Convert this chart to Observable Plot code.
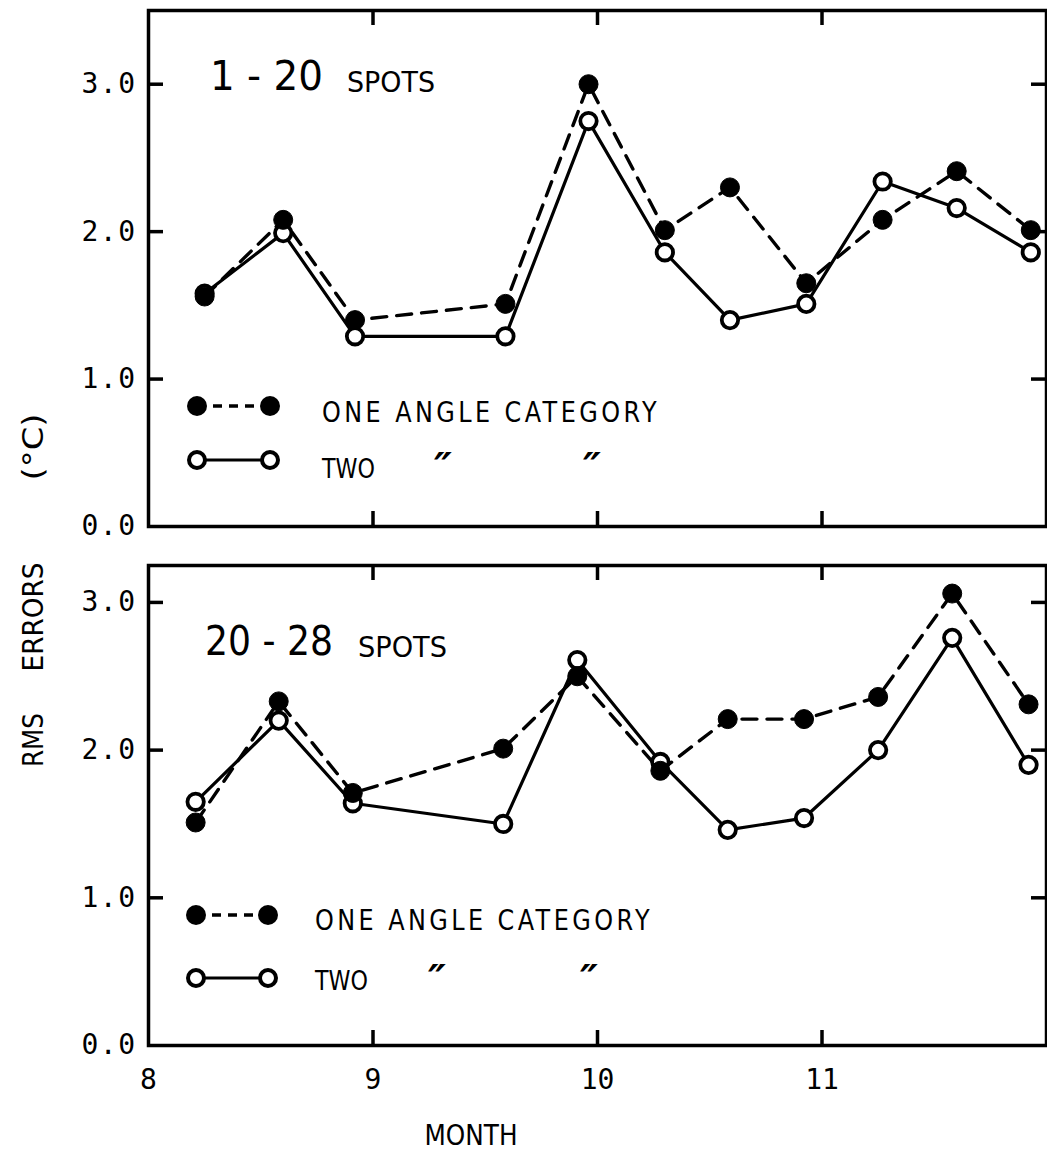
<!DOCTYPE html>
<html><head><meta charset="utf-8">
<script src="https://cdn.jsdelivr.net/npm/d3@7"></script>
<script src="https://cdn.jsdelivr.net/npm/@observablehq/plot@0.6"></script>
<style>
html,body{margin:0;padding:0;background:#fff;}
#wrap{position:relative;width:1047px;height:1151px;overflow:hidden;background:#fff;}
#wrap > svg{position:absolute;left:0;}
</style></head><body><div id="wrap"></div>
<script>
// ---- data ----
const xTicks = [8, 9, 10, 11];
const yTicks = [0, 1, 2, 3];
const seriesNames = ["ONE ANGLE CATEGORY", "TWO"];
const dittoMark = "\u2033";
const panelTitles = [["1 - 20", "SPOTS"], ["20 - 28", "SPOTS"]];
const xLabel = "MONTH";
const yLabelWords = ["RMS", "ERRORS", "(\u00B0C)"];

const topMonths = [8.25, 8.60, 8.92, 9.59, 9.96, 10.30, 10.59, 10.93, 11.27, 11.60, 11.93];
const topOne    = [1.56, 2.08, 1.40, 1.51, 3.00, 2.01, 2.30, 1.65, 2.08, 2.41, 2.01];
const topTwo    = [1.58, 1.99, 1.29, 1.29, 2.75, 1.86, 1.40, 1.51, 2.34, 2.16, 1.86];

const botMonths = [8.21, 8.58, 8.91, 9.58, 9.91, 10.28, 10.58, 10.92, 11.25, 11.58, 11.92];
const botOne    = [1.51, 2.33, 1.71, 2.01, 2.50, 1.86, 2.21, 2.21, 2.36, 3.06, 2.31];
const botTwo    = [1.65, 2.20, 1.64, 1.50, 2.61, 1.92, 1.46, 1.54, 2.00, 2.76, 1.90];

// ---- layout ----
const W = 1047, ML = 148, MR = 1, TK = 15;
const MONO = "'DejaVu Sans Mono', 'Liberation Mono', monospace";
const SANS = "'DejaVu Sans', 'Liberation Sans', sans-serif";

function panel(o) {
  const pw = W - ML - MR, ph = o.height - o.marginTop - o.marginBottom;
  const one = o.months.map((m, i) => ({m, v: o.one[i]}));
  const two = o.months.map((m, i) => ({m, v: o.two[i]}));
  const inner = yTicks.filter(d => d > 0);
  const innerX = xTicks.filter(d => d > 8);
  const marks = [
    Plot.line(one, {x: "m", y: "v", stroke: "black", strokeWidth: 3.4, strokeDasharray: "15,10"}),
    Plot.line(two, {x: "m", y: "v", stroke: "black", strokeWidth: 3.2}),
    Plot.dot(two, {x: "m", y: "v", r: 8.2, fill: "white", stroke: "black", strokeWidth: 3.8}),
    Plot.dot(one, {x: "m", y: "v", r: 9.5, fill: "black", stroke: "black", strokeWidth: 1}),
    Plot.frame({stroke: "black", strokeWidth: 3.5}),
    Plot.ruleY(inner, {insetRight: pw - TK, stroke: "black", strokeWidth: 3.5}),
    Plot.ruleY(inner, {insetLeft: pw - TK, stroke: "black", strokeWidth: 3.5}),
    Plot.ruleX(innerX, {insetBottom: ph - TK, stroke: "black", strokeWidth: 3.5}),
    Plot.ruleX(innerX, {insetTop: ph - TK, stroke: "black", strokeWidth: 3.5}),
    Plot.axisY({ticks: yTicks, tickSize: 0, tickPadding: 12, tickFormat: d3.format(".1f"), label: null})
  ];
  if (o.showX) marks.push(Plot.axisX({ticks: xTicks, tickSize: 0, tickPadding: 24, tickFormat: d3.format("d"), label: null}));
  const svg = Plot.plot({
    width: W, height: o.height,
    marginLeft: ML, marginRight: MR, marginTop: o.marginTop, marginBottom: o.marginBottom,
    x: {domain: [8, 12], axis: o.showX ? undefined : null},
    y: {domain: [0, o.yMax]},
    style: {fontFamily: MONO, fontSize: "28px", color: "black", background: "transparent", overflow: "visible"},
    marks
  });
  svg.style.top = o.top + "px";
  return svg;
}

const wrap = document.getElementById("wrap");
const p1 = panel({months: topMonths, one: topOne, two: topTwo, yMax: 3.5, height: 545, marginTop: 10, marginBottom: 19, top: 0, showX: false});
const p2 = panel({months: botMonths, one: botOne, two: botTwo, yMax: 3.25, height: 606, marginTop: 20, marginBottom: 106, top: 545, showX: true});
wrap.appendChild(p1);
wrap.appendChild(p2);
// tick label styling
for (const s of [p1, p2]) {
  d3.select(s).selectAll("text")
    .style("font-size", "28px").style("font-family", MONO).style("fill", "black");
  d3.select(s).selectAll('g[aria-label="y-axis tick label"] text').attr("letter-spacing", 1.5);
}

// ---- overlay: titles, legends, axis titles ----
const ov = d3.select(wrap).append("svg")
  .attr("width", W).attr("height", 1151)
  .style("top", "0px").style("pointer-events", "none");

function title(x1, y1, big, bigLen, x2, y2, small, smallLen) {
  ov.append("text").attr("x", x1).attr("y", y1).attr("font-family", SANS).attr("font-size", 41)
    .attr("textLength", bigLen).attr("lengthAdjust", "spacingAndGlyphs").text(big);
  ov.append("text").attr("x", x2).attr("y", y2).attr("font-family", SANS).attr("font-size", 28)
    .attr("textLength", smallLen).attr("lengthAdjust", "spacingAndGlyphs").text(small);
}
title(210, 90, panelTitles[0][0], 113, 347, 92, panelTitles[0][1], 88);
title(205, 655, panelTitles[1][0], 128, 358, 657, panelTitles[1][1], 89);

function legend(xa, xb, yf, yo, tx, tyf, tyo, d1, d2) {
  ov.append("line").attr("x1", xa).attr("x2", xb).attr("y1", yf).attr("y2", yf)
    .attr("stroke", "black").attr("stroke-width", 3.4).attr("stroke-dasharray", "9,7");
  for (const x of [xa, xb]) ov.append("circle").attr("cx", x).attr("cy", yf).attr("r", 10).attr("fill", "black");
  ov.append("line").attr("x1", xa).attr("x2", xb).attr("y1", yo).attr("y2", yo)
    .attr("stroke", "black").attr("stroke-width", 3.2);
  for (const x of [xa, xb]) ov.append("circle").attr("cx", x).attr("cy", yo).attr("r", 8)
    .attr("fill", "white").attr("stroke", "black").attr("stroke-width", 4);
  ov.append("text").attr("x", tx).attr("y", tyf).attr("font-family", SANS).attr("font-size", 28)
    .attr("textLength", 338).attr("lengthAdjust", "spacingAndGlyphs").attr("letter-spacing", 4).text(seriesNames[0]);
  ov.append("text").attr("x", tx).attr("y", tyo).attr("font-family", SANS).attr("font-size", 27)
    .attr("textLength", 53).attr("lengthAdjust", "spacingAndGlyphs").text(seriesNames[1]);
  for (const x of [d1, d2]) ov.append("text").attr("x", x).attr("y", tyo + 4).attr("text-anchor", "middle")
    .attr("font-family", SANS).attr("font-size", 40).attr("font-style", "italic").attr("font-weight", "bold").text(dittoMark);
}
legend(197, 270, 406, 460, 322, 422, 478, 443, 592);
legend(196, 268, 915, 978, 315, 930, 990, 437, 589);

// axis titles
ov.append("text").attr("x", 471).attr("y", 1145).attr("text-anchor", "middle")
  .attr("font-family", SANS).attr("font-size", 29).attr("textLength", 93).attr("lengthAdjust", "spacingAndGlyphs").text(xLabel);
const yl = [[740, 54], [617, 109], [447, 67]];
yLabelWords.forEach((w, i) => {
  const [cy, len] = yl[i];
  ov.append("text").attr("transform", `translate(43,${cy}) rotate(-90)`).attr("text-anchor", "middle")
    .attr("font-family", SANS).attr("font-size", 28).attr("textLength", len).attr("lengthAdjust", "spacingAndGlyphs").text(w);
});
</script></body></html>
